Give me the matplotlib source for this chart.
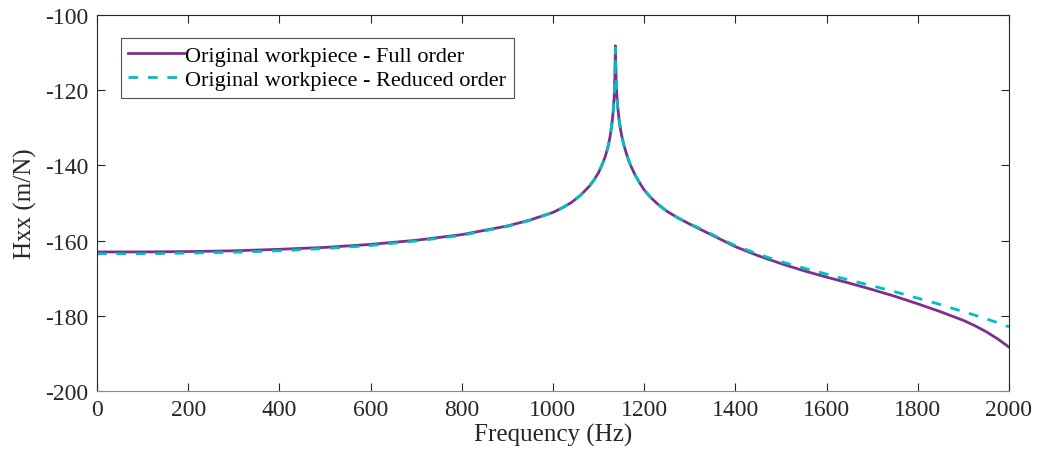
import numpy as np
import matplotlib
matplotlib.use("Agg")
import matplotlib.pyplot as plt

plt.rcParams["font.family"] = ["Liberation Serif", "DejaVu Serif"]
plt.rcParams["axes.unicode_minus"] = False

# frequency (Hz) and Hxx (dB)
freq = [0, 100, 200, 300, 400, 500, 600, 700, 800, 900, 950, 1000, 1020,
        1040, 1060, 1080, 1090, 1100, 1110, 1115, 1120, 1124, 1127, 1130,
        1132, 1134, 1135, 1136, 1137, 1138, 1139, 1140, 1142, 1145, 1148,
        1152, 1156, 1160, 1165, 1170, 1180, 1190, 1200, 1215, 1230, 1250,
        1275, 1300, 1325, 1350, 1375, 1400, 1450, 1500, 1550, 1600, 1650,
        1700, 1750, 1800, 1850, 1900, 1925, 1950, 1975, 2000]

h_full = [-163.0, -163.0, -162.9, -162.7, -162.3, -161.8, -161.0, -159.9,
          -158.4, -156.1, -154.5, -152.5, -151.3, -149.9, -148.0, -145.5,
          -143.9, -141.9, -139.2, -137.5, -135.4, -133.2, -131.0, -128.2,
          -125.7, -122.3, -119.8, -115.5, -108.2, -114.5, -118.5, -121.0,
          -124.4, -127.8, -130.3, -132.8, -134.8, -136.4, -138.3, -139.9,
          -142.5, -144.6, -146.5, -148.6, -150.3, -152.2, -154.0, -155.6,
          -157.1, -158.6, -160.1, -161.6, -164.0, -166.1, -168.0, -169.7,
          -171.3, -173.0, -174.8, -176.8, -178.9, -181.2, -182.6, -184.2,
          -186.1, -188.3]

h_red = [-163.5, -163.5, -163.3, -163.1, -162.7, -162.1, -161.3, -160.1,
         -158.6, -156.2, -154.6, -152.5, -151.3, -149.9, -148.0, -145.5,
         -143.9, -141.9, -139.2, -137.5, -135.4, -133.2, -131.0, -128.2,
         -125.7, -122.3, -119.8, -115.8, -108.7, -114.8, -118.5, -121.0,
         -124.4, -127.8, -130.3, -132.8, -134.8, -136.4, -138.3, -139.9,
         -142.5, -144.6, -146.5, -148.6, -150.3, -152.2, -154.0, -155.5,
         -156.9, -158.4, -159.9, -161.3, -163.6, -165.6, -167.3, -168.9,
         -170.5, -172.0, -173.6, -175.3, -177.0, -178.9, -179.8, -180.8,
         -181.8, -182.9]

fig = plt.figure(figsize=(10.38, 4.64), dpi=100)
ax = fig.add_axes([0.0934, 0.155, 0.8786, 0.8105])

ax.plot(freq, h_full, color="#7E2F8E", lw=2.0,
        label="Original workpiece - Full order")
ax.plot(freq, h_red, color="#00BFBF", lw=2.0, ls=(0, (3.5, 3.5)),
        label="Original workpiece - Reduced order")

ax.set_xlim(0, 2000)
ax.set_ylim(-200, -100)
ax.set_xticks(np.arange(0, 2001, 200))
ax.set_yticks(np.arange(-200, -99, 20))
ax.tick_params(direction="in", length=6, width=0.8, top=True, right=True,
               labelsize=17, colors="#262626", pad=6)
for s in ax.spines.values():
    s.set_color("#262626")
    s.set_linewidth(0.8)
ax.spines["bottom"].set_color("#8c8c8c")

ax.set_xlabel("Frequency (Hz)", fontsize=18, color="#262626", labelpad=2)
ax.set_ylabel("Hxx (m/N)", fontsize=18, color="#262626", labelpad=6)

leg = ax.legend(loc="upper left", bbox_to_anchor=(0.026, 0.94), fontsize=16,
                frameon=True, fancybox=False, edgecolor="#262626",
                handlelength=2.5, handletextpad=0.05, borderpad=0.35,
                labelspacing=0.15, borderaxespad=0)
leg.get_frame().set_linewidth(0.8)

fig.savefig("out.png", dpi=100)
